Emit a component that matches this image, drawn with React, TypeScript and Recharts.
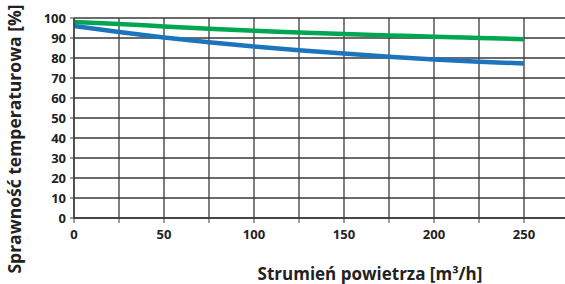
import { LineChart, Line, XAxis, YAxis, CartesianGrid } from "recharts";

const flow = [0, 25, 50, 75, 100, 125, 150, 175, 200, 225, 250];
const greenEff = [98, 97, 95.8, 94.6, 93.6, 92.8, 92, 91.3, 90.6, 90, 89.4];
const blueEff = [96, 93, 90.3, 87.9, 85.8, 83.9, 82.2, 80.6, 79.2, 78.1, 77.3];

const xTicks = [0, 25, 50, 75, 100, 125, 150, 175, 200, 225, 250, 275];
const yTicks = [0, 10, 20, 30, 40, 50, 60, 70, 80, 90, 100];

const data = flow.map((f, i) => ({ flow: f, green: greenEff[i], blue: blueEff[i] }));

const font = "'Open Sans', sans-serif";

export default function App() {
  return (
    <div
      style={{
        position: "absolute",
        left: 0,
        top: 0,
        width: 565,
        height: 284,
        overflow: "hidden",
        background: "#fff",
        fontFamily: font,
      }}
    >
      <LineChart
        width={569}
        height={284}
        data={data}
        margin={{ top: 18, right: 0, bottom: 0, left: 0 }}
      >
        <CartesianGrid stroke="#3a3a3a" strokeWidth={1.3} />
        <XAxis
          dataKey="flow"
          type="number"
          domain={[0, 275]}
          ticks={xTicks}
          interval={0}
          height={66}
          tickSize={5}
          tickMargin={7}
          axisLine={{ stroke: "#3a3a3a", strokeWidth: 1.3 }}
          tickLine={{ stroke: "#3a3a3a" }}
          tickFormatter={(v: number) => (v % 50 === 0 && v < 275 ? String(v) : "")}
          tick={{ fill: "#222", fontSize: 13, fontWeight: 700, fontFamily: font }}
        />
        <YAxis
          type="number"
          domain={[0, 100]}
          ticks={yTicks}
          interval={0}
          width={74}
          tickSize={4}
          tickMargin={4}
          axisLine={{ stroke: "#3a3a3a", strokeWidth: 1.3 }}
          tickLine={{ stroke: "#3a3a3a" }}
          tick={{ fill: "#222", fontSize: 13, fontWeight: 700, fontFamily: font }}
        />
        <Line
          dataKey="green"
          type="monotone"
          stroke="#00a651"
          strokeWidth={4.5}
          dot={false}
          isAnimationActive={false}
        />
        <Line
          dataKey="blue"
          type="monotone"
          stroke="#1c75bc"
          strokeWidth={4.5}
          dot={false}
          isAnimationActive={false}
        />
        <text
          x={370}
          y={280}
          textAnchor="middle"
          fontFamily={font}
          fontWeight={700}
          fontSize={17}
          fill="#222"
        >
          Strumień powietrza [m³/h]
        </text>
        <text
          x={21}
          y={139}
          textAnchor="middle"
          transform="rotate(-90 21 139)"
          fontFamily={font}
          fontWeight={700}
          fontSize={17.5}
          fill="#222"
        >
          Sprawność temperaturowa [%]
        </text>
      </LineChart>
    </div>
  );
}
